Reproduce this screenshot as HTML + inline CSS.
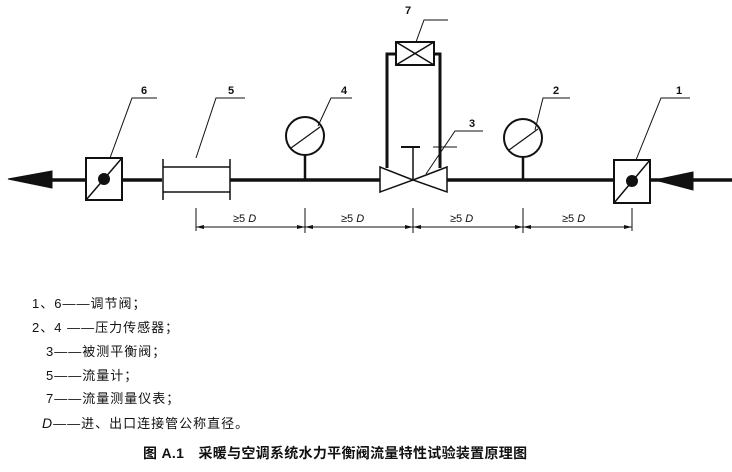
<!DOCTYPE html>
<html><head><meta charset="utf-8"><style>
body{margin:0;background:#fff;width:732px;height:472px;overflow:hidden}
svg{display:block}
text{font-family:"Liberation Sans","Noto Sans CJK SC",sans-serif;fill:#111}
</style></head><body>
<svg width="732" height="472" viewBox="0 0 732 472">
<g stroke="#111" fill="none">
<line x1="40" y1="180" x2="86" y2="180" stroke-width="3.5"/>
<line x1="122" y1="180" x2="162" y2="180" stroke-width="3.5"/>
<line x1="230" y1="180" x2="380" y2="180" stroke-width="3.5"/>
<line x1="447" y1="180" x2="614" y2="180" stroke-width="3.5"/>
<line x1="650" y1="180" x2="732" y2="180" stroke-width="3.5"/>
<polygon points="8,179 52,171 52,188" fill="#111"/>
<polygon points="655,180 693,172 693,190" fill="#111"/>
<rect x="86" y="158" width="36" height="42" stroke-width="2" fill="#fff"/>
<line x1="86" y1="200" x2="122" y2="158" stroke-width="1.5"/>
<circle cx="104" cy="179" r="5.5" fill="#111"/>
<rect x="614" y="160" width="36" height="43" stroke-width="2" fill="#fff"/>
<line x1="614" y1="203" x2="650" y2="160" stroke-width="1.5"/>
<circle cx="632" cy="181" r="5.5" fill="#111"/>
<line x1="163" y1="159" x2="163" y2="200" stroke-width="1.5"/>
<line x1="230" y1="159" x2="230" y2="200" stroke-width="1.5"/>
<line x1="163" y1="167" x2="230" y2="167" stroke-width="1.5"/>
<line x1="163" y1="192" x2="230" y2="192" stroke-width="1.5"/>
<circle cx="305" cy="136" r="19" stroke-width="2"/>
<line x1="305" y1="155" x2="305" y2="180" stroke-width="2.5"/>
<line x1="291" y1="148" x2="320" y2="127" stroke-width="1.2"/>
<circle cx="523" cy="138" r="19" stroke-width="2"/>
<line x1="523" y1="157" x2="523" y2="180" stroke-width="2.5"/>
<line x1="509" y1="150" x2="538" y2="129" stroke-width="1.2"/>
<polyline points="387,168 387,54 396,54" stroke-width="3"/>
<polyline points="440,168 440,54 434,54" stroke-width="3"/>
<rect x="396" y="42" width="38" height="23" stroke-width="2" fill="#fff"/>
<line x1="396" y1="42" x2="434" y2="65" stroke-width="1.5"/>
<line x1="396" y1="65" x2="434" y2="42" stroke-width="1.5"/>
<polygon points="380,167 413,180 380,192" stroke-width="1.5" fill="#fff"/>
<polygon points="447,167 413,180 447,192" stroke-width="1.5" fill="#fff"/>
<line x1="413" y1="147" x2="413" y2="180" stroke-width="1.5"/>
<line x1="401" y1="147" x2="420" y2="147" stroke-width="2"/>
<g stroke-width="1">
<polyline points="157,98 132,98 110,158"/>
<polyline points="245,98 216,98 196,158"/>
<polyline points="352,98 331,98 318,126"/>
<polyline points="448,20 424,20 416,42"/>
<polyline points="483,131 455,131 426,174"/>
<line x1="433" y1="147" x2="457" y2="147"/>
<polyline points="570,98 543,98 535,130"/>
<polyline points="690,98 661,98 636,160"/>
</g>
<g stroke-width="1">
<line x1="196" y1="208" x2="196" y2="231"/>
<line x1="305" y1="208" x2="305" y2="233"/>
<line x1="413" y1="208" x2="413" y2="233"/>
<line x1="523" y1="208" x2="523" y2="233"/>
<line x1="632" y1="208" x2="632" y2="231"/>
<line x1="196" y1="227" x2="632" y2="227"/>
</g>
</g>
<g fill="#111">
<polygon points="196,227 204,225 204,229"/><polygon points="305,227 297,225 297,229"/>
<polygon points="305,227 313,225 313,229"/><polygon points="413,227 405,225 405,229"/>
<polygon points="413,227 421,225 421,229"/><polygon points="523,227 515,225 515,229"/>
<polygon points="523,227 531,225 531,229"/><polygon points="632,227 624,225 624,229"/>
</g>
<g font-size="11">
<text x="233" y="222">≥5 <tspan font-style="italic">D</tspan></text>
<text x="341" y="222">≥5 <tspan font-style="italic">D</tspan></text>
<text x="450" y="222">≥5 <tspan font-style="italic">D</tspan></text>
<text x="562" y="222">≥5 <tspan font-style="italic">D</tspan></text>
</g>
<g font-size="11" font-weight="bold" text-anchor="middle">
<text x="144" y="94">6</text><text x="231" y="94">5</text><text x="344" y="94">4</text>
<text x="408" y="14">7</text><text x="472" y="127">3</text><text x="556" y="94">2</text><text x="679" y="94">1</text>
</g>
<g font-size="13" letter-spacing="1">
<text x="32" y="308">1、6——调节阀；</text>
<text x="32" y="332">2、4 ——压力传感器；</text>
<text x="46" y="356">3——被测平衡阀；</text>
<text x="46" y="380">5——流量计；</text>
<text x="46" y="403">7——流量测量仪表；</text>
<text x="42" y="428"><tspan font-style="italic" font-size="14">D</tspan>——进、出口连接管公称直径。</text>
</g>
<text x="143" y="458" font-size="14" font-weight="bold" letter-spacing="0.3">图 A.1　采暖与空调系统水力平衡阀流量特性试验装置原理图</text>
</svg>
</body></html>
